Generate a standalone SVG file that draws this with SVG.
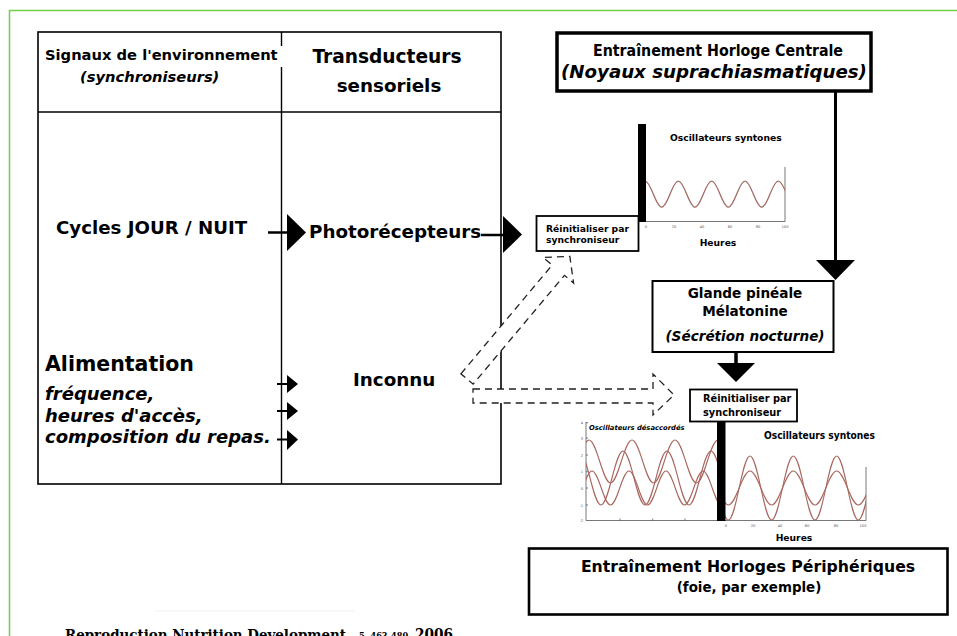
<svg xmlns="http://www.w3.org/2000/svg" width="957" height="636" viewBox="0 0 957 636">
<defs>
<style>
.t{font-family:"DejaVu Sans","Liberation Sans",sans-serif;font-weight:bold;fill:#000}
.tc{font-family:"DejaVu Sans Condensed","DejaVu Sans",sans-serif;font-weight:bold;fill:#000}
.i{font-style:oblique}
.box{fill:#fff;stroke:#000}
.ln{stroke:#000;fill:none}
.head{fill:#000;stroke:none}
.dash{fill:#fff;stroke:#222;stroke-width:1.3;stroke-dasharray:7 5}
.wave{fill:none;stroke:#a8665f;stroke-width:1.1}
.wave2{fill:none;stroke:#8a8a8a;stroke-width:0.6}
.ax{stroke:#555;stroke-width:0.8;fill:none}
.tick{font-family:"DejaVu Sans",sans-serif;font-size:3.6px;fill:#555}
.cit{font-family:"DejaVu Serif","Liberation Serif",serif;font-weight:bold;fill:#000}
</style>
<clipPath id="cTop"><rect x="645" y="160" width="140" height="62"/></clipPath>
<clipPath id="cL"><rect x="586" y="420" width="131" height="101"/></clipPath>
<clipPath id="cR"><rect x="725" y="420" width="141" height="101"/></clipPath>
<clipPath id="cBox"><rect x="557" y="33" width="313" height="58"/></clipPath>
</defs>
<rect width="957" height="636" fill="#fff"/>
<rect x="9.5" y="10.5" width="960" height="640" fill="none" stroke="#6fcf45" stroke-width="1.5"/>

<g id="table">
<rect x="38" y="32" width="463" height="452" class="box" stroke-width="1.6"/>
<line x1="38" y1="112" x2="501" y2="112" class="ln" stroke-width="1.6"/>
<line x1="281.5" y1="32" x2="281.5" y2="46" class="ln" stroke-width="1.4"/>
<line x1="281.5" y1="67" x2="281.5" y2="484" class="ln" stroke-width="1.4"/>
<text class="t" x="45" y="60" font-size="14.7">Signaux de l'environnement</text>
<text class="t i" x="80" y="82" font-size="14.7">(synchroniseurs)</text>
<text class="t" x="387" y="63" font-size="18.6" text-anchor="middle">Transducteurs</text>
<text class="t" x="389" y="92" font-size="18.3" text-anchor="middle">sensoriels</text>
</g>

<g id="cycles"><text class="t" x="56" y="234" font-size="18.2">Cycles JOUR / NUIT</text></g>
<g id="photorecepteurs"><text class="t" x="309" y="238" font-size="18.3">Photorécepteurs</text></g>
<g id="alimentation">
<text class="t" x="45" y="371" font-size="20.5">Alimentation</text>
<text class="t i" x="45" y="400" font-size="18">fréquence,</text>
<text class="t i" x="45" y="422" font-size="18">heures d'accès,</text>
<text class="t i" x="45" y="443" font-size="18">composition du repas.</text>
</g>
<g id="inconnu"><text class="t" x="353" y="386" font-size="18.3">Inconnu</text></g>

<g id="horloge-centrale">
<rect x="557" y="33" width="314" height="58" class="box" stroke-width="3.5"/>
<text class="tc" x="718" y="56" font-size="16" text-anchor="middle" textLength="250" lengthAdjust="spacingAndGlyphs">Entraînement Horloge Centrale</text>
<g clip-path="url(#cBox)"><text class="t i" x="561" y="78" font-size="18.2">(Noyaux suprachiasmatiques)</text></g>
</g>

<g id="reinit-top">
<rect x="536.5" y="216" width="102" height="35" class="box" stroke-width="1.8"/>
<text class="t" x="546" y="232" font-size="9.2">Réinitialiser par</text>
<text class="t" x="546" y="243" font-size="9.2">synchroniseur</text>
</g>

<g id="osc-top">
<text class="t" x="670" y="141" font-size="9.2">Oscillateurs syntones</text>
<line x1="645" y1="221.5" x2="785" y2="221.5" class="ax"/>
<line x1="785" y1="167" x2="785" y2="221.5" class="ax"/>
<g clip-path="url(#cTop)">
<path class="wave2" d="M645,181.6 C651.07,181.6 655.6,207.6 661.67,207.6 S672.26,181.6 678.33,181.6 S688.93,207.6 695,207.6 S705.6,181.6 711.67,181.6 S722.26,207.6 728.33,207.6 S738.93,181.6 745,181.6 S755.6,207.6 761.67,207.6 S772.26,181.6 778.33,181.6 S788.93,207.6 795,207.6"/>
<path class="wave" d="M645,181 C651.07,181 655.6,207 661.67,207 S672.26,181 678.33,181 S688.93,207 695,207 S705.6,181 711.67,181 S722.26,207 728.33,207 S738.93,181 745,181 S755.6,207 761.67,207 S772.26,181 778.33,181 S788.93,207 795,207"/>
</g>
<g class="tick" text-anchor="middle">
<text x="646" y="228">0</text><text x="674" y="228">20</text><text x="702" y="228">40</text><text x="730" y="228">60</text><text x="758" y="228">80</text><text x="785" y="228">100</text>
</g>
<rect x="638" y="124" width="8" height="98" fill="#000"/>
<text class="t" x="718" y="246" font-size="9.2" text-anchor="middle">Heures</text>
</g>

<g id="glande-pineale">
<rect x="652.5" y="281" width="181" height="71" class="box" stroke-width="2"/>
<text class="t" x="745" y="298" font-size="13.6" text-anchor="middle">Glande pinéale</text>
<text class="t" x="745" y="316" font-size="13.6" text-anchor="middle">Mélatonine</text>
<text class="t i" x="745" y="341" font-size="13.6" text-anchor="middle">(Sécrétion nocturne)</text>
</g>

<g id="reinit-bottom">
<rect x="690" y="389.5" width="107" height="32" class="box" stroke-width="1.8"/>
<text class="t" x="703" y="402" font-size="9.8">Réinitialiser par</text>
<text class="t" x="703" y="416" font-size="9.8">synchroniseur</text>
</g>

<g id="osc-bottom">
<text class="t i" x="589" y="430" font-size="6.8">Oscillateurs désaccordés</text>
<text class="t" x="764" y="439" font-size="11" textLength="111" lengthAdjust="spacingAndGlyphs">Oscillateurs syntones</text>
<line x1="586" y1="422" x2="586" y2="520.5" class="ax"/>
<line x1="586" y1="520.5" x2="866" y2="520.5" class="ax"/>
<line x1="866" y1="467" x2="866" y2="520.5" class="ax"/>
<g class="ax">
<line x1="586" y1="422.7" x2="588" y2="422.7"/><line x1="586" y1="438" x2="588" y2="438"/><line x1="586" y1="455" x2="588" y2="455"/><line x1="586" y1="471.7" x2="588" y2="471.7"/><line x1="586" y1="488" x2="588" y2="488"/><line x1="586" y1="505" x2="588" y2="505"/>
<line x1="620" y1="518.5" x2="620" y2="520.5"/><line x1="652.7" y1="518.5" x2="652.7" y2="520.5"/><line x1="685" y1="518.5" x2="685" y2="520.5"/>
</g>
<g class="tick" text-anchor="end">
<text x="583" y="424">4</text><text x="583" y="440">3</text><text x="583" y="456.5">2</text><text x="583" y="473">1</text><text x="583" y="489.5">0</text><text x="583" y="506.5">-1</text><text x="583" y="522">-2</text>
</g>
<g class="tick" text-anchor="middle">
<text x="726" y="527">0</text><text x="753" y="527">20</text><text x="780" y="527">40</text><text x="807" y="527">60</text><text x="836" y="527">80</text><text x="863" y="527">100</text>
</g>
<g clip-path="url(#cL)">
<path class="wave" d="M567.5,483 C575.33,483 581.17,440 589,440 S602.67,483 610.5,483 S624.17,440 632,440 S645.67,483 653.5,483 S667.17,440 675,440 S688.67,483 696.5,483 S710.17,440 718,440"/>
<path class="wave" d="M579,451 C587.01,451 592.99,505 601,505 S614.99,451 623,451 S636.99,505 645,505 S658.99,451 667,451 S680.99,505 689,505 S702.99,451 711,451 S724.99,505 733,505"/>
<path class="wave" d="M573.5,505 C580.24,505 585.26,471 592,471 S603.76,505 610.5,505 S622.26,471 629,471 S640.76,505 647.5,505 S659.26,471 666,471 S677.76,505 684.5,505 S696.26,471 703,471 S714.76,505 721.5,505"/>
</g>
<g clip-path="url(#cR)">
<path class="wave" d="M706.67,456 C714.56,456 720.44,520 728.33,520 S742.11,456 750,456 S763.78,520 771.67,520 S785.44,456 793.33,456 S807.11,520 815,520 S828.78,456 836.67,456 S850.44,520 858.33,520 S872.11,456 880,456"/>
<path class="wave" d="M706.67,471 C714.56,471 720.44,505 728.33,505 S742.11,471 750,471 S763.78,505 771.67,505 S785.44,471 793.33,471 S807.11,505 815,505 S828.78,471 836.67,471 S850.44,505 858.33,505 S872.11,471 880,471"/>
</g>
<rect x="717" y="422" width="8.5" height="99" fill="#000"/>
<text class="t" x="794" y="541" font-size="9.2" text-anchor="middle">Heures</text>
</g>

<g id="horloges-peripheriques">
<rect x="529" y="548.5" width="418.5" height="66" class="box" stroke-width="2.6"/>
<text class="t" x="748" y="572" font-size="15.7" text-anchor="middle">Entraînement Horloges Périphériques</text>
<text class="t" x="749" y="592" font-size="13.4" text-anchor="middle">(foie, par exemple)</text>
</g>

<g id="connectors">
<line x1="268" y1="232.5" x2="289" y2="232.5" class="ln" stroke-width="2.5"/>
<polygon class="head" points="287,214 306,232.5 287,251"/>
<line x1="481" y1="235" x2="505" y2="235" class="ln" stroke-width="2.5"/>
<polygon class="head" points="503,216 522,234.5 503,253"/>
<line x1="277" y1="384" x2="289" y2="384" class="ln" stroke-width="2"/>
<polygon class="head" points="287,375 298,384 287,393"/>
<line x1="277" y1="411" x2="289" y2="411" class="ln" stroke-width="2"/>
<polygon class="head" points="287,402 298,411 287,420"/>
<line x1="277" y1="439.5" x2="289" y2="439.5" class="ln" stroke-width="2"/>
<polygon class="head" points="287,430 298,439.5 287,450"/>
<line x1="835.5" y1="91" x2="835.5" y2="262" class="ln" stroke-width="3"/>
<polygon class="head" points="816,260 855,260 835.5,280"/>
<line x1="736" y1="352" x2="736" y2="365" class="ln" stroke-width="3.5"/>
<polygon class="head" points="717,363 755,363 736,382"/>
<polygon class="dash" transform="translate(467,379) rotate(-50)" points="0,-8 142,-8 142,-20 160,0 142,20 142,8 0,8"/>
<polygon class="dash" points="473,389 653,389 653,374 674,395 653,415 653,403 473,403"/>
</g>

<g id="citation">
<line x1="155" y1="611" x2="355" y2="611" stroke="#f0f0f0" stroke-width="1"/>
<text class="cit" x="65" y="640" font-size="15" textLength="281" lengthAdjust="spacingAndGlyphs">Reproduction Nutrition Development</text>
<text class="cit" x="359" y="639" font-size="9" textLength="52" lengthAdjust="spacingAndGlyphs">5, 463-480,</text>
<text class="cit" x="415" y="640" font-size="16" textLength="38" lengthAdjust="spacingAndGlyphs">2006</text>
</g>
</svg>
